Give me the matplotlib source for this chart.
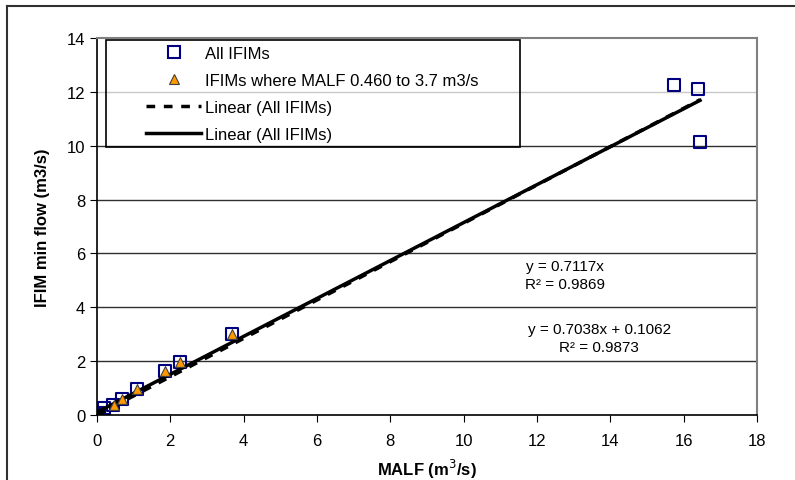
import matplotlib.pyplot as plt
from matplotlib.lines import Line2D
from matplotlib.patches import Rectangle

plt.rcParams['font.family'] = ['Liberation Sans', 'DejaVu Sans']

# all IFIM points (MALF, min flow)
malf_all = [0.0, 0.02, 0.05, 0.19, 0.43, 0.67, 1.10, 1.85, 2.26, 3.67, 15.75, 16.4, 16.45]
flow_all = [0.0, 0.08, 0.04, 0.26, 0.37, 0.59, 0.97, 1.65, 1.96, 3.01, 12.25, 12.1, 10.15]

# IFIMs where MALF 0.460 to 3.7
malf_sub = [0.46, 0.67, 1.10, 1.85, 2.26, 3.67]
flow_sub = [0.37, 0.59, 0.97, 1.65, 1.96, 3.01]

# trendlines
slope_dash = 0.7117
slope_solid, icpt_solid = 0.7038, 0.1062
trend_x = [0.0, 16.45]

fig = plt.figure(figsize=(7.95, 4.81), dpi=100)
ax = fig.add_axes([0.122, 0.135, 0.830, 0.784])

for g in [2, 4, 6, 8, 10]:
    ax.axhline(g, color='#303030', lw=1.0, zorder=0)
ax.axhline(12, color='#c8c8c8', lw=1.0, zorder=0)

ax.plot(trend_x, [icpt_solid + slope_solid * v for v in trend_x], color='black', lw=2.5, zorder=3)
ax.plot(trend_x, [slope_dash * v for v in trend_x], color='black', lw=2.5,
        dashes=(2.5, 2.5), zorder=4)

ax.scatter(malf_all, flow_all, s=75, marker='s', facecolors='none',
           edgecolors='#000080', linewidths=1.5, zorder=2)
ax.scatter(malf_sub, flow_sub, s=50, marker='^', facecolors='#FF9900',
           edgecolors='#404040', linewidths=0.8, zorder=5)

ax.set_xlim(0, 18)
ax.set_ylim(0, 14)
ax.set_xticks(range(0, 19, 2))
ax.set_yticks(range(0, 15, 2))
ax.tick_params(axis='both', labelsize=12, direction='out', length=5, color='black')
ax.tick_params(axis='x', pad=8)
for s in ['left', 'bottom']:
    ax.spines[s].set_color('black')
    ax.spines[s].set_linewidth(1.2)
for s in ['top', 'right']:
    ax.spines[s].set_color('#808080')
    ax.spines[s].set_linewidth(1.5)

ax.set_xlabel('MALF (m$^3$/s)', fontsize=12, fontweight='bold', labelpad=6)
ax.set_ylabel('IFIM min flow (m3/s)', fontsize=12, fontweight='bold', labelpad=12)

ax.text(12.76, 5.2, 'y = 0.7117x\nR² = 0.9869', fontsize=11, ha='center', va='center',
        multialignment='center', linespacing=1.3)
ax.text(13.7, 2.86, 'y = 0.7038x + 0.1062\nR² = 0.9873', fontsize=11, ha='center',
        va='center', multialignment='center', linespacing=1.3)

handles = [
    Line2D([], [], ls='none', marker='s', ms=9, mfc='white', mec='#000080', mew=1.5),
    Line2D([], [], ls='none', marker='^', ms=7, mfc='#FF9900', mec='#404040', mew=0.8),
    Line2D([], [], color='black', lw=2.5, dashes=(2.5, 2.5)),
    Line2D([], [], color='black', lw=2.5),
]
labels = ['All IFIMs', 'IFIMs where MALF 0.460 to 3.7 m3/s',
          'Linear (All IFIMs)', 'Linear (All IFIMs)']
fig.legend(handles, labels, loc='upper left', bbox_to_anchor=(146 / 795, 1 - 47 / 481),
           frameon=False, fontsize=12, handlelength=3.3, handletextpad=0.25,
           labelspacing=0.72, borderpad=0, borderaxespad=0)
fig.add_artist(Rectangle((106 / 795, 1 - 148 / 481), 414 / 795, 107 / 481,
                         transform=fig.transFigure, fill=False, ec='black', lw=1.2,
                         zorder=6))

# outer chart frame
fig.add_artist(Line2D([7 / 795, 7 / 795], [0, 1 - 7 / 481], transform=fig.transFigure,
                      color='#303030', lw=1.5))
fig.add_artist(Line2D([7 / 795, 1], [1 - 7 / 481, 1 - 7 / 481], transform=fig.transFigure,
                      color='#303030', lw=1.5))

fig.savefig('out.png', dpi=100)
